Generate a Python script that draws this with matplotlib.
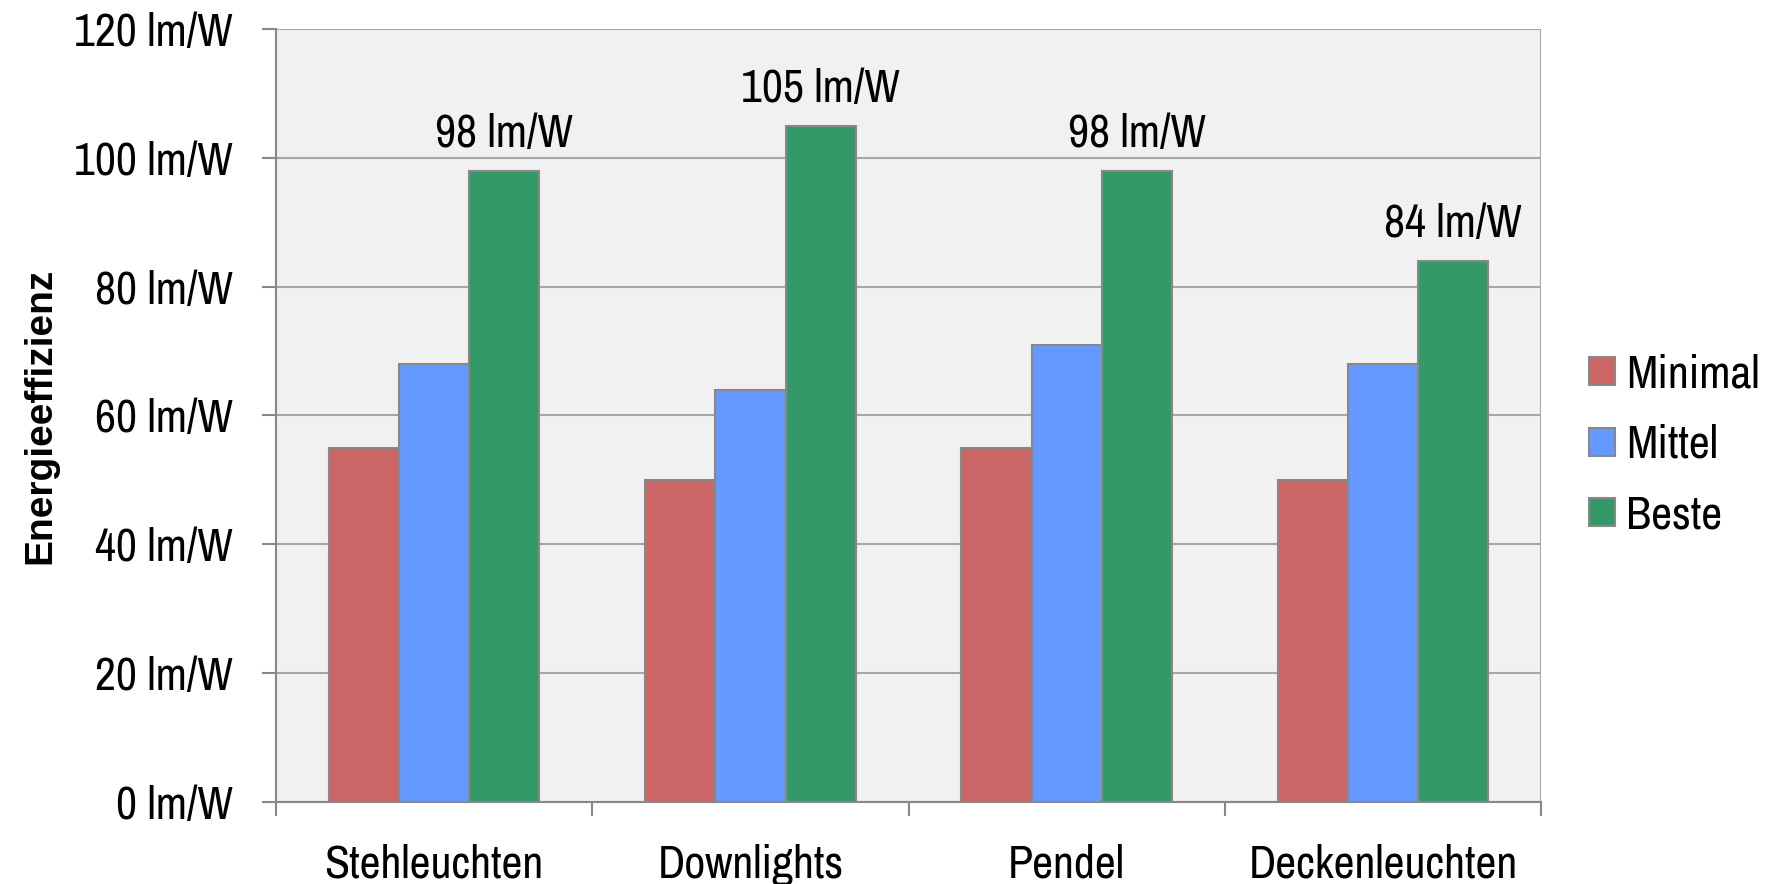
import matplotlib
matplotlib.use("Agg")
import matplotlib.pyplot as plt
from matplotlib import font_manager
import numpy as np

categories = ["Stehleuchten", "Downlights", "Pendel", "Deckenleuchten"]
series_names = ["Minimal", "Mittel", "Beste"]
minimal = [55, 50, 55, 50]
mittel = [68, 64, 71, 68]
beste = [98, 105, 98, 84]
yticks = [0, 20, 40, 60, 80, 100, 120]

names = {f.name for f in font_manager.fontManager.ttflist}
prefs = ["Liberation Sans Narrow", "Arial Narrow", "Archivo Narrow", "PT Sans Narrow",
         "Roboto Condensed", "Fira Sans Condensed", "IBM Plex Sans Condensed",
         "Encode Sans Condensed", "Liberation Sans"]
fam = next((p for p in prefs if p in names), "DejaVu Sans")
plt.rcParams['font.family'] = [fam, 'DejaVu Sans']
FS = 33

colors = ["#CC6666", "#6699FF", "#339966"]
fig = plt.figure(figsize=(17.77, 8.84), dpi=100)
ax = fig.add_axes([0.1553, 0.0928, 0.712, 0.8744])
ax.set_facecolor("#F1F1F1")

x = np.arange(len(categories))
w = 0.222
for i, (vals, name) in enumerate(zip([minimal, mittel, beste], series_names)):
    bars = ax.bar(x + (i - 1) * w, vals, w, color=colors[i], edgecolor="#888888",
                  linewidth=1.5, label=name, zorder=3)
    if name == "Beste":
        for b, v in zip(bars, vals):
            ax.text(b.get_x() + b.get_width() / 2, v + 2.5, f"{v} lm/W",
                    ha="center", va="bottom", fontsize=FS)

ax.set_xlim(-0.5, len(categories) - 0.5)
ax.set_ylim(0, 120)
ax.set_yticks(yticks)
ax.set_yticklabels([f"{t} lm/W" for t in yticks], fontsize=FS)
ax.set_xticks(x)
ax.set_xticklabels(categories, fontsize=FS)
ax.tick_params(axis="x", length=0, pad=30)
ax.set_xticks(np.arange(len(categories) + 1) - 0.5, minor=True)
ax.tick_params(axis="x", which="minor", length=10, color="#888888", width=1.5)
ax.tick_params(axis="y", length=10, color="#888888", width=1.5, pad=21)
ax.grid(axis="y", color="#A6A6A6", linewidth=1.5, zorder=0)
for s in ["top", "right"]:
    ax.spines[s].set_visible(False)
for s in ["left", "bottom"]:
    ax.spines[s].set_color("#888888")
    ax.spines[s].set_linewidth(1.5)
ax.axvline(len(categories) - 0.5, color="#A6A6A6", linewidth=1.5, zorder=0)
ax.set_ylabel("Energieeffizienz", fontsize=28, fontweight="bold", labelpad=11,
              family=["Liberation Sans", "DejaVu Sans"])

leg = ax.legend(loc="center left", bbox_to_anchor=(1.0, 0.462), frameon=False,
                fontsize=FS, handlelength=0.57, handleheight=0.57, handletextpad=0.25,
                labelspacing=0.62, borderaxespad=0.64)
fig.savefig("out.png", dpi=100)
